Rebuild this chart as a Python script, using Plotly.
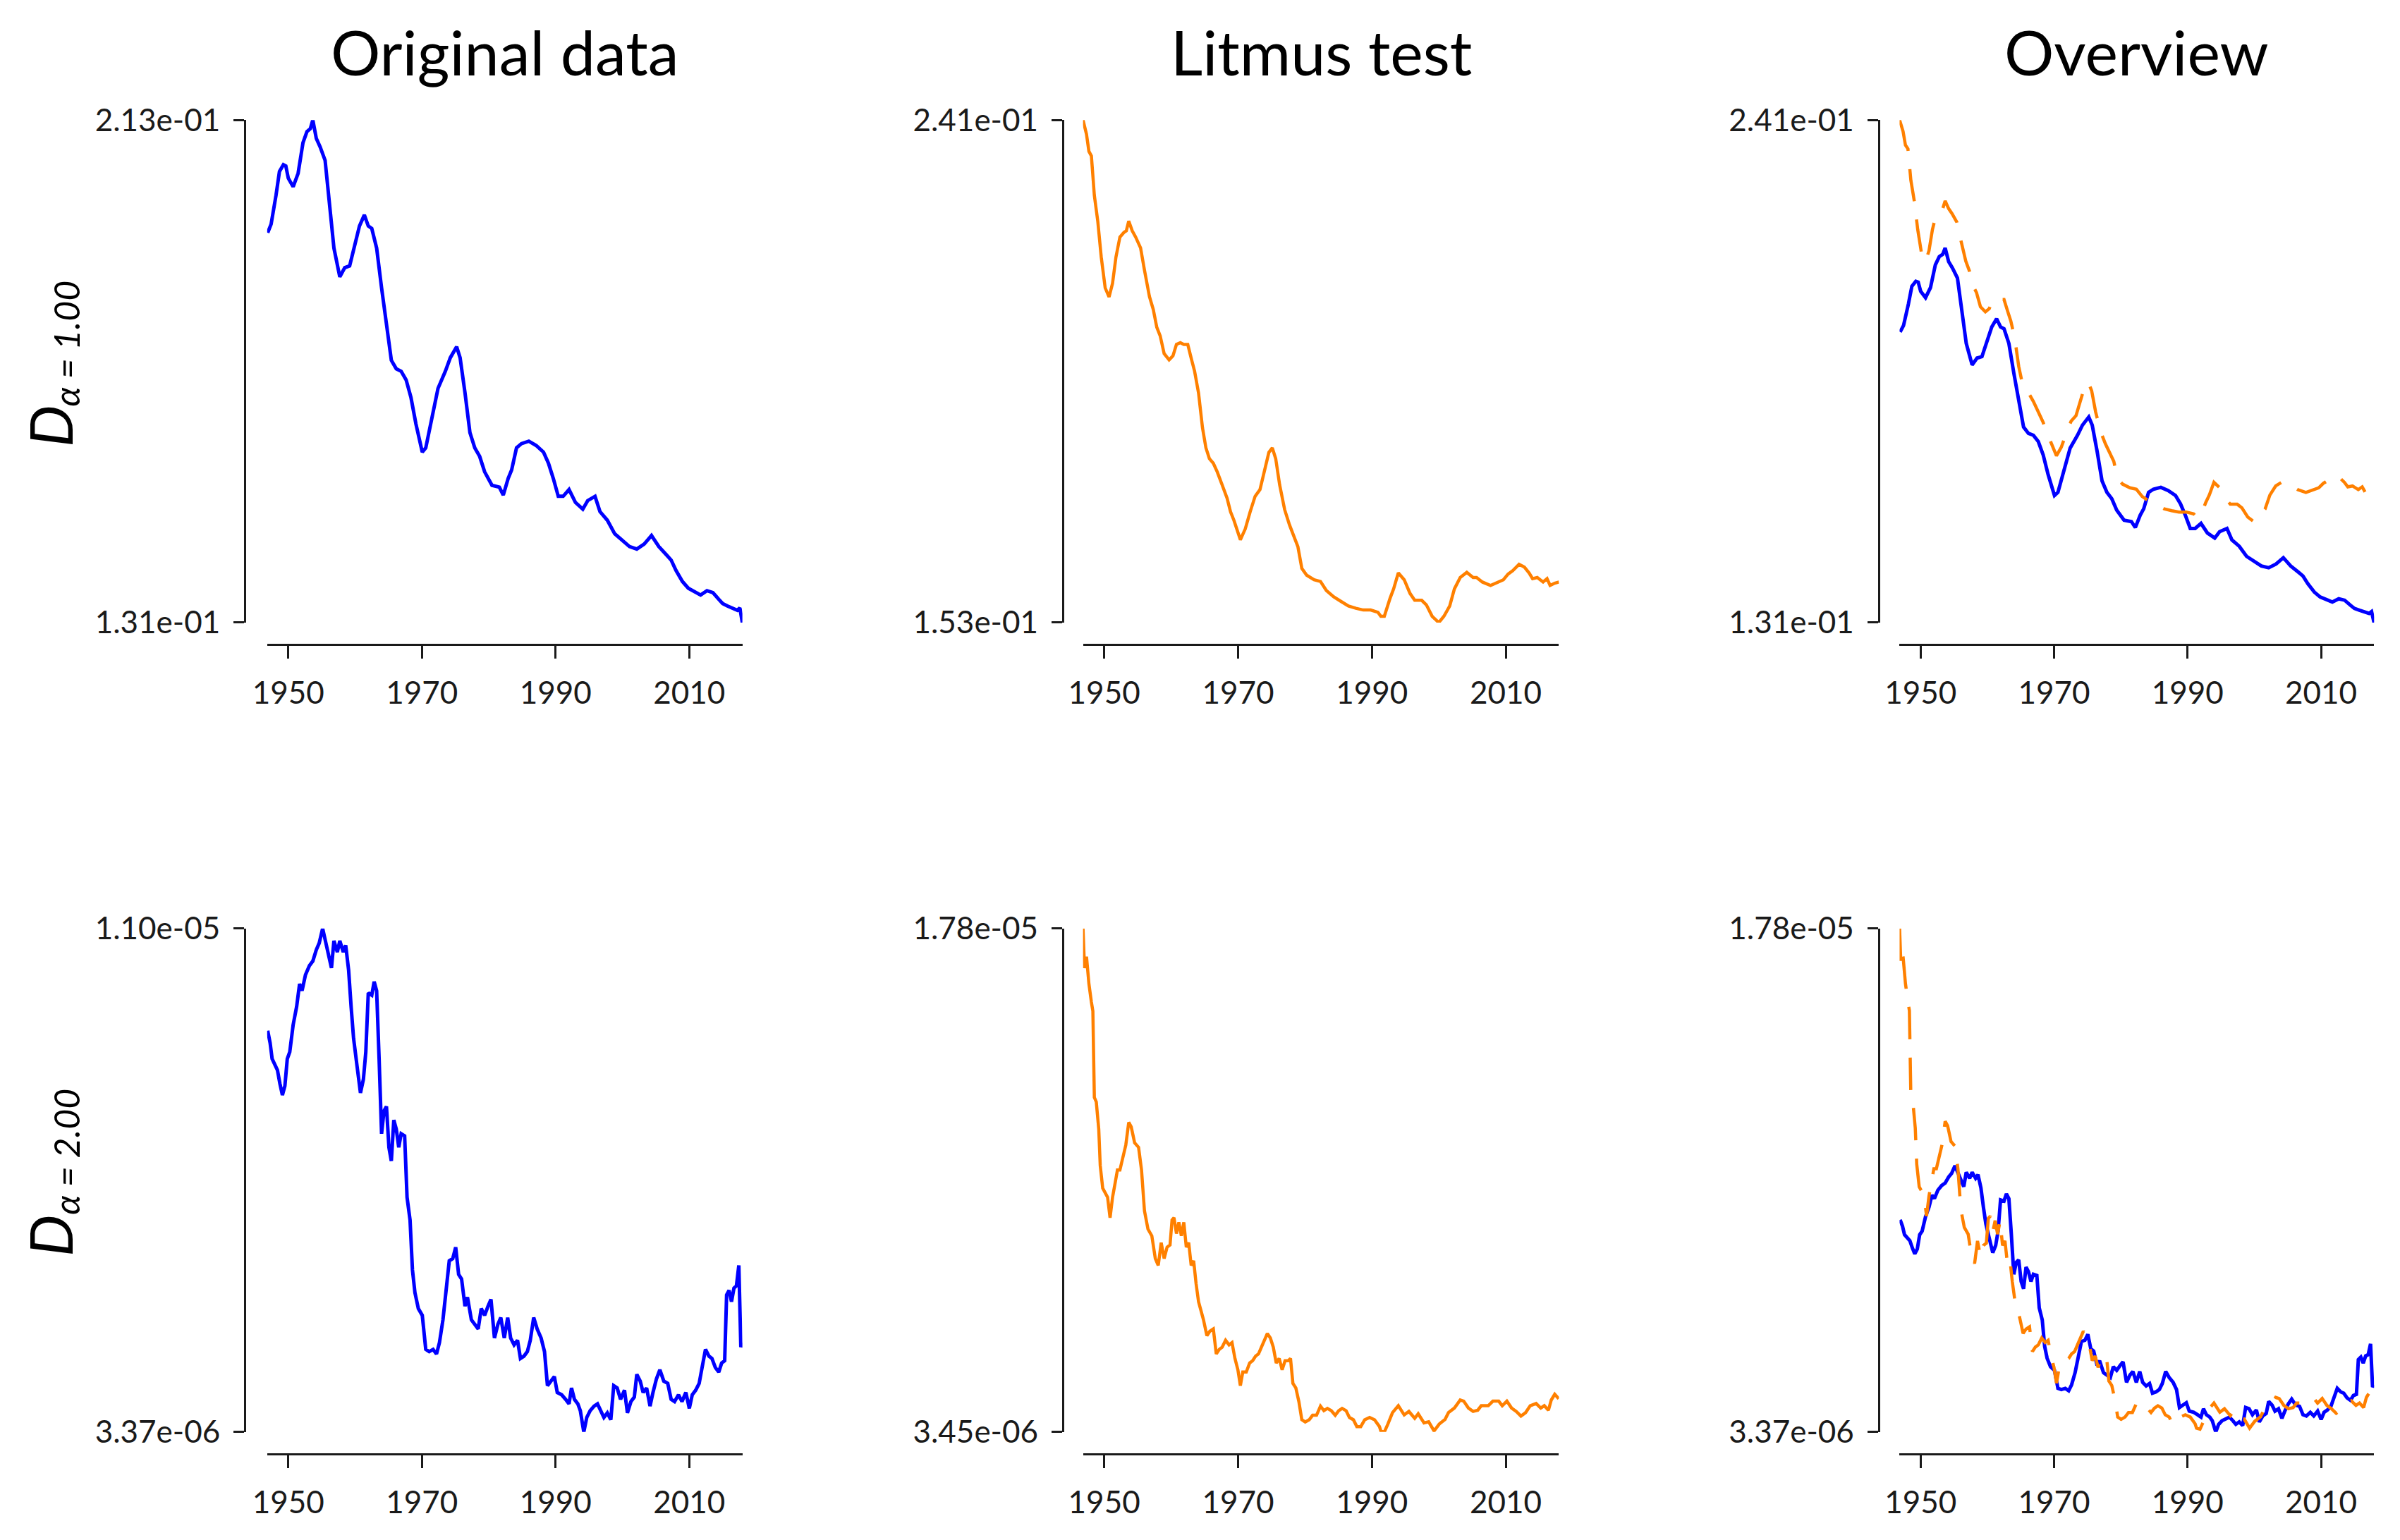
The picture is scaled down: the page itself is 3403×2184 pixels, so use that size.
import plotly.graph_objects as go

# ---------------- data ----------------
col_titles = ["Original data", "Litmus test", "Overview"]
label_main = ["D", "D"]
label_sub = ["α = 1.00", "α = 2.00"]
year_ticks = [1950, 1970, 1990, 2010]

# D(alpha=1), original data (blue)
years_d1_orig = [1946.92, 1947.43, 1948.16, 1948.68, 1949.27, 1949.63, 1950.0, 1950.73, 1951.47, 1952.2,
                 1952.79, 1953.31, 1953.67, 1954.19, 1954.77, 1955.51, 1956.24, 1956.83, 1957.71, 1958.45,
                 1959.18, 1959.92, 1960.65, 1961.38, 1961.97, 1962.49, 1963.22, 1963.96, 1964.69, 1965.42,
                 1966.16, 1966.89, 1967.63, 1968.36, 1969.1, 1970.05, 1970.57, 1971.3, 1972.4, 1973.5,
                 1974.24, 1975.19, 1975.71, 1976.44, 1977.18, 1977.91, 1978.64, 1979.38, 1980.48, 1981.58,
                 1982.17, 1982.9, 1983.42, 1984.15, 1984.89, 1985.99, 1987.09, 1988.19, 1988.93, 1989.66,
                 1990.4, 1991.13, 1992.01, 1992.97, 1994.07, 1994.8, 1995.9, 1996.64, 1997.74, 1998.84,
                 1999.94, 2001.05, 2002.15, 2003.25, 2004.35, 2005.45, 2006.55, 2007.29, 2008.02, 2008.98,
                 2009.86, 2010.96, 2011.7, 2012.65, 2013.53, 2014.41, 2015.0, 2015.74, 2016.47, 2017.2,
                 2017.57, 2017.94]
d1_orig = [0.1946, 0.1960, 0.2007, 0.2046, 0.2057, 0.2055, 0.2035, 0.2021, 0.2043, 0.2093,
           0.2111, 0.2116, 0.2130, 0.2100, 0.2086, 0.2064, 0.1985, 0.1921, 0.1874, 0.1889,
           0.1892, 0.1928, 0.1957, 0.1975, 0.1957, 0.1953, 0.1921, 0.1856, 0.1792, 0.1738,
           0.1724, 0.1720, 0.1706, 0.1677, 0.1634, 0.1588, 0.1595, 0.1634, 0.1692, 0.1720,
           0.1742, 0.1760, 0.1742, 0.1685, 0.1620, 0.1595, 0.1581, 0.1556, 0.1534, 0.1531,
           0.1518, 0.1545, 0.1559, 0.1595, 0.1602, 0.1606, 0.1599, 0.1588, 0.1570, 0.1545,
           0.1516, 0.1516, 0.1527, 0.1506, 0.1495, 0.1509, 0.1516, 0.1491, 0.1477, 0.1455,
           0.1445, 0.1434, 0.1430, 0.1438, 0.1452, 0.1434, 0.1421, 0.1412, 0.1395, 0.1377,
           0.1366, 0.1359, 0.1355, 0.1362, 0.1359, 0.1348, 0.1341, 0.1337, 0.1334, 0.1330,
           0.1334, 0.1310]

# D(alpha=1), litmus test (orange)
years_d1_litmus = [1946.84, 1947.36, 1947.72, 1948.09, 1948.53, 1949.05, 1949.56, 1950.15, 1950.73, 1951.25,
                   1951.76, 1952.35, 1952.94, 1953.31, 1953.67, 1954.19, 1954.7, 1955.44, 1956.02, 1956.76,
                   1957.34, 1957.86, 1958.37, 1958.96, 1959.7, 1960.28, 1960.8, 1961.38, 1961.9, 1962.49,
                   1963.0, 1963.51, 1964.1, 1964.69, 1965.2, 1965.72, 1966.31, 1966.89, 1967.63, 1968.36,
                   1968.88, 1969.39, 1970.35, 1971.08, 1971.81, 1972.55, 1973.28, 1974.02, 1974.61, 1975.12,
                   1975.63, 1976.22, 1976.96, 1977.69, 1978.42, 1978.94, 1979.53, 1980.26, 1981.36, 1982.32,
                   1983.2, 1984.3, 1985.4, 1986.5, 1987.61, 1988.71, 1989.81, 1990.91,
                   1991.34, 1991.86, 1992.73, 1993.25, 1993.95, 1994.83, 1995.7, 1996.4, 1997.44, 1998.14,
                   1999.01, 1999.99, 2000.76, 2001.63, 2002.33, 2003.2, 2004.18, 2005.12, 2005.64, 2006.51,
                   2007.73, 2008.78, 2009.65, 2010.35, 2011.05, 2011.99, 2012.79, 2013.49, 2014.01, 2014.71,
                   2015.58, 2016.17, 2016.63, 2017.32, 2017.95]
d1_litmus = [0.2410, 0.2385, 0.2355, 0.2347, 0.2278, 0.2232, 0.2170, 0.2116, 0.2100, 0.2124,
             0.2170, 0.2205, 0.2213, 0.2216, 0.2233, 0.2216, 0.2205, 0.2186, 0.2147, 0.2101,
             0.2078, 0.2047, 0.2032, 0.2001, 0.1990, 0.1997, 0.2017, 0.2020, 0.2017, 0.2017,
             0.1993, 0.1970, 0.1932, 0.1871, 0.1836, 0.1817, 0.1809, 0.1794, 0.1771, 0.1748,
             0.1724, 0.1709, 0.1675, 0.1694, 0.1724, 0.1751, 0.1763, 0.1801, 0.1828, 0.1836,
             0.1817, 0.1771, 0.1728, 0.1701, 0.1678, 0.1663, 0.1625, 0.1613, 0.1605, 0.1602,
             0.1586, 0.1575, 0.1567, 0.1559, 0.1555, 0.1552, 0.1552, 0.1548,
             0.1541, 0.1541, 0.1573, 0.1589, 0.1617, 0.1605, 0.1581, 0.1569, 0.1569, 0.1561,
             0.1541, 0.1530, 0.1541, 0.1559, 0.1589, 0.1609, 0.1618, 0.1609, 0.1609, 0.1601,
             0.1595, 0.1601, 0.1605, 0.1615, 0.1621, 0.1632, 0.1627, 0.1617, 0.1607, 0.1609,
             0.1601, 0.1607, 0.1595, 0.1599, 0.1601]

# D(alpha=2), original data (blue), in units of 1e-6
years_d2_orig = [1946.92, 1947.28, 1947.58, 1948.02, 1948.38, 1948.75, 1949.12, 1949.49, 1949.85, 1950.22,
                 1950.73, 1951.25, 1951.69, 1952.06, 1952.57, 1953.16, 1953.67, 1954.19, 1954.63, 1955.14,
                 1955.66, 1956.1, 1956.46, 1956.83, 1957.34, 1957.71, 1958.23, 1958.59, 1959.03, 1959.4,
                 1959.77, 1960.28, 1960.8, 1961.24, 1961.6, 1961.97, 1962.49, 1962.85, 1963.22, 1963.59,
                 1963.96, 1964.32, 1964.69, 1965.06, 1965.42, 1965.79, 1966.16, 1966.53, 1966.89, 1967.41,
                 1967.77, 1968.22, 1968.58, 1968.95, 1969.46, 1970.05, 1970.57, 1971.08, 1971.67, 1972.18,
                 1972.62, 1973.14, 1973.65, 1974.09, 1974.61, 1975.05, 1975.49, 1975.93, 1976.44, 1976.81,
                 1977.4, 1977.91, 1978.42, 1978.87, 1979.38, 1979.89, 1980.33, 1980.85, 1981.36, 1981.8,
                 1982.32, 1982.83, 1983.27, 1983.79, 1984.3, 1984.74, 1985.26, 1985.77, 1986.21, 1986.72,
                 1987.24, 1987.83, 1988.34, 1988.78, 1989.29, 1989.81, 1990.25, 1990.91, 1991.5, 1992.01,
                 1992.38, 1992.82, 1993.33, 1993.7, 1994.22, 1994.66, 1995.17, 1995.76, 1996.27, 1996.79,
                 1997.23, 1997.74, 1998.26, 1998.7, 1999.21, 1999.72, 2000.31, 2000.75, 2001.27, 2001.78,
                 2002.15, 2002.66, 2003.1, 2003.62, 2004.13, 2004.57, 2005.09, 2005.6, 2006.19, 2006.78,
                 2007.29, 2007.8, 2008.39, 2008.91, 2009.49, 2010.01, 2010.45, 2010.96, 2011.48, 2011.92,
                 2012.43, 2012.95, 2013.39, 2013.9, 2014.41, 2014.85, 2015.3, 2015.59, 2015.96, 2016.32,
                 2016.69, 2017.06, 2017.42, 2017.72, 2017.94]
d2_orig_e6 = [9.452, 9.266, 9.025, 8.922, 8.853, 8.647, 8.475, 8.613, 9.025, 9.129,
              9.541, 9.817, 10.161, 10.057, 10.298, 10.436, 10.505, 10.677, 10.78, 11.0,
              10.78, 10.573, 10.401, 10.814, 10.642, 10.814, 10.642, 10.745, 10.367, 9.817,
              9.335, 8.922, 8.509, 8.716, 9.129, 10.023, 9.989, 10.195, 10.057, 9.025,
              7.89, 8.234, 8.303, 7.684, 7.477, 8.097, 7.959, 7.684, 7.89, 7.856,
              6.927, 6.583, 5.826, 5.482, 5.241, 5.138, 4.622, 4.588, 4.622, 4.553,
              4.725, 5.069, 5.551, 5.964, 5.998, 6.17, 5.757, 5.689, 5.276, 5.413,
              5.069, 5.0, 4.932, 5.241, 5.138, 5.276, 5.379, 4.794, 5.0, 5.104,
              4.794, 5.104, 4.794, 4.691, 4.76, 4.485, 4.519, 4.588, 4.76, 5.104,
              4.932, 4.794, 4.588, 4.072, 4.141, 4.209, 3.969, 3.934, 3.865, 3.796,
              4.037, 3.865, 3.796, 3.693, 3.37, 3.59, 3.693, 3.762, 3.796, 3.693,
              3.59, 3.659, 3.556, 4.072, 4.037, 3.865, 4.003, 3.659, 3.831, 3.9,
              4.244, 4.141, 3.969, 4.037, 3.762, 3.969, 4.175, 4.312, 4.141, 4.106,
              3.865, 3.831, 3.934, 3.831, 3.969, 3.728, 3.934, 4.003, 4.106, 4.347,
              4.622, 4.519, 4.485, 4.347, 4.278, 4.416, 4.45, 5.448, 5.516, 5.345,
              5.551, 5.585, 5.895, 4.656, 4.725]

# D(alpha=2), litmus test (orange), in units of 1e-6
years_d2_litmus = [1946.84, 1947.06, 1947.36, 1947.72, 1948.09, 1948.31, 1948.53, 1948.82, 1949.19, 1949.41,
                   1949.78, 1950.15, 1950.51, 1950.88, 1951.25, 1951.62, 1951.98, 1952.35, 1952.79, 1953.23,
                   1953.67, 1954.04, 1954.55, 1955.14, 1955.58, 1956.02, 1956.54, 1957.12, 1957.64, 1958.08,
                   1958.52, 1958.96, 1959.4, 1959.84, 1960.14, 1960.43, 1960.8, 1961.16, 1961.53, 1961.9,
                   1962.27, 1962.63, 1963.0, 1963.37, 1963.73, 1964.1, 1964.47, 1964.84, 1965.35, 1965.79,
                   1966.31, 1966.75, 1967.19, 1967.63, 1968.14, 1968.66, 1969.1, 1969.54, 1969.98, 1970.35,
                   1970.71, 1971.23, 1971.74, 1972.18, 1972.62, 1973.06, 1973.5, 1974.02, 1974.38, 1974.83,
                   1975.27, 1975.71, 1976.15, 1976.59, 1977.03, 1977.47, 1977.84, 1978.2, 1978.64, 1979.09,
                   1979.53, 1980.04, 1980.63, 1981.14, 1981.73, 1982.32, 1982.83, 1983.35, 1983.93, 1984.52,
                   1985.04, 1985.55, 1986.14, 1986.65, 1987.24, 1987.75, 1988.34, 1988.93, 1989.66, 1990.4,
                   1991.13, 1991.34, 1991.86, 1992.39, 1993.08, 1993.95, 1994.83, 1995.53, 1996.4, 1996.92,
                   1997.79, 1998.49, 1999.29, 2000.06, 2000.93, 2001.45, 2002.33, 2003.2, 2003.72, 2004.42,
                   2005.12, 2005.82, 2006.34, 2007.39, 2008.08, 2008.95, 2009.48, 2010.17, 2010.87, 2011.57,
                   2012.27, 2012.97, 2013.66, 2014.54, 2015.23, 2015.76, 2016.38, 2016.8, 2017.32, 2017.92]
d2_litmus_e6 = [17.8, 16.674, 16.998, 16.221, 15.704, 15.445, 12.986, 12.857, 12.08, 11.045,
                10.398, 10.269, 10.139, 9.557, 10.139, 10.528, 10.916, 10.916, 11.304, 11.628,
                12.275, 12.145, 11.692, 11.563, 10.916, 9.751, 9.234, 9.039, 8.393, 8.198,
                8.846, 8.393, 8.716, 8.781, 9.493, 9.557, 9.104, 9.428, 9.039, 9.428,
                8.716, 8.846, 8.198, 8.328, 7.681, 7.163, 6.905, 6.646, 6.193, 6.322,
                6.387, 5.675, 5.804, 5.869, 6.063, 5.934, 5.999, 5.546, 5.222, 4.769,
                5.158, 5.158, 5.416, 5.481, 5.611, 5.675, 5.869, 6.128, 6.257, 6.128,
                5.869, 5.416, 5.546, 5.222, 5.481, 5.481, 5.546, 4.834, 4.705, 4.316,
                3.799, 3.734, 3.799, 3.928, 3.928, 4.187, 4.058, 4.122, 4.058, 3.928,
                4.058, 4.122, 4.058, 3.863, 3.799, 3.605, 3.605, 3.799, 3.863, 3.799,
                3.605, 3.48, 3.45, 3.676, 4.003, 4.199, 3.937, 4.036, 3.839, 3.97,
                3.709, 3.74, 3.48, 3.676, 3.807, 4.003, 4.133, 4.362, 4.33, 4.133,
                4.036, 4.07, 4.199, 4.199, 4.33, 4.33, 4.2, 4.33, 4.133, 4.036,
                3.905, 4.003, 4.199, 4.264, 4.133, 4.2, 4.07, 4.362, 4.525, 4.395]

d2_orig = [v * 1e-6 for v in d2_orig_e6]
d2_litmus = [v * 1e-6 for v in d2_litmus_e6]

# ---------------- styling / layout ----------------
BLUE = "#0000FF"
ORANGE = "#FF8000"
INK = "#1a1a1a"
FONT = "Lato"
W, H = 3403, 2184
PAGE_OFFSET = 8   # default body margin of the html page

col_px = [(360, 1038), (1524, 2203), (2689, 3366)]   # x-domain of each column (pixels)
col_yaxis_px = [328, 1495, 2659]                     # where each y-axis line sits
row_px = [(145.4, 875.6), (1320, 2051.5)]            # y-domain of each row (pixels from top)
row_xaxis_px = [907, 2083]                           # where each x-axis line sits
title_y_px = 46
label_main_pos = [(49, 590), (49, 1766)]             # centre of the big "D"
label_sub_pos = [(73, 470), (73, 1644)]              # centre of the subscript


def fx(p):
    return (p - PAGE_OFFSET) / W


def fy(p):
    return 1 - (p - PAGE_OFFSET) / H


orig_style = dict(color=BLUE, width=5)
litmus_style = dict(color=ORANGE, width=4.5)
dashed_style = dict(color=ORANGE, width=4.5, dash="46px,26px")

rows = [
    (years_d1_orig, d1_orig, years_d1_litmus, d1_litmus),
    (years_d2_orig, d2_orig, years_d2_litmus, d2_litmus),
]

all_years = years_d1_orig + years_d1_litmus + years_d2_orig + years_d2_litmus
x_range = [min(all_years), max(all_years)]

fig = go.Figure()
layout = {}
annotations = []

idx = 0
for r, (yo, vo, yl, vl) in enumerate(rows):
    for c in range(3):
        idx += 1
        xa = "x" if idx == 1 else f"x{idx}"
        ya = "y" if idx == 1 else f"y{idx}"
        if c == 0:
            series = [(yo, vo, orig_style)]
        elif c == 1:
            series = [(yl, vl, litmus_style)]
        else:
            series = [(yo, vo, orig_style), (yl, vl, dashed_style)]
        vals = []
        for xs, ys, st in series:
            fig.add_trace(go.Scatter(x=xs, y=ys, mode="lines", line=st,
                                     xaxis=xa, yaxis=ya, showlegend=False,
                                     hoverinfo="x+y"))
            vals += ys
        lo, hi = min(vals), max(vals)

        layout["xaxis" if idx == 1 else f"xaxis{idx}"] = dict(
            domain=[fx(col_px[c][0]), fx(col_px[c][1])],
            anchor="free", position=fy(row_xaxis_px[r]),
            range=x_range, tickvals=year_ticks, ticktext=[str(t) for t in year_ticks],
            showline=True, linecolor=INK, linewidth=3,
            ticks="outside", ticklen=18, tickwidth=3, tickcolor=INK,
            ticklabelstandoff=12,
            tickfont=dict(family=FONT, size=44, color=INK),
            showgrid=False, zeroline=False,
        )
        layout["yaxis" if idx == 1 else f"yaxis{idx}"] = dict(
            domain=[fy(row_px[r][1]), fy(row_px[r][0])],
            anchor="free", position=fx(col_yaxis_px[c]),
            range=[lo, hi], tickvals=[lo, hi],
            ticktext=[f"{lo:.2e}", f"{hi:.2e}"],
            showline=True, linecolor=INK, linewidth=3,
            ticks="outside", ticklen=15, tickwidth=3, tickcolor=INK,
            ticklabelstandoff=10,
            tickfont=dict(family=FONT, size=44, color=INK),
            showgrid=False, zeroline=False,
        )

for c, title in enumerate(col_titles):
    annotations.append(dict(
        text=title, xref="paper", yref="paper",
        x=fx((col_px[c][0] + col_px[c][1]) / 2), y=fy(title_y_px),
        xanchor="center", yanchor="middle", showarrow=False,
        font=dict(family=FONT, size=88, color="black"),
    ))

for r in range(2):
    mx, my = label_main_pos[r]
    sx, sy = label_sub_pos[r]
    annotations.append(dict(
        text=label_main[r], xref="paper", yref="paper",
        x=fx(mx), y=fy(my), xanchor="center", yanchor="middle",
        textangle=-90, showarrow=False,
        font=dict(family=FONT, size=84, color="black", style="italic"),
    ))
    annotations.append(dict(
        text=label_sub[r], xref="paper", yref="paper",
        x=fx(sx), y=fy(sy), xanchor="center", yanchor="middle",
        textangle=-90, showarrow=False,
        font=dict(family=FONT, size=50, color="black", style="italic"),
    ))

fig.update_layout(
    width=W, height=H,
    margin=dict(l=0, r=0, t=0, b=0),
    paper_bgcolor="white", plot_bgcolor="white",
    annotations=annotations,
    **layout,
)

fig.write_html("out.html")
